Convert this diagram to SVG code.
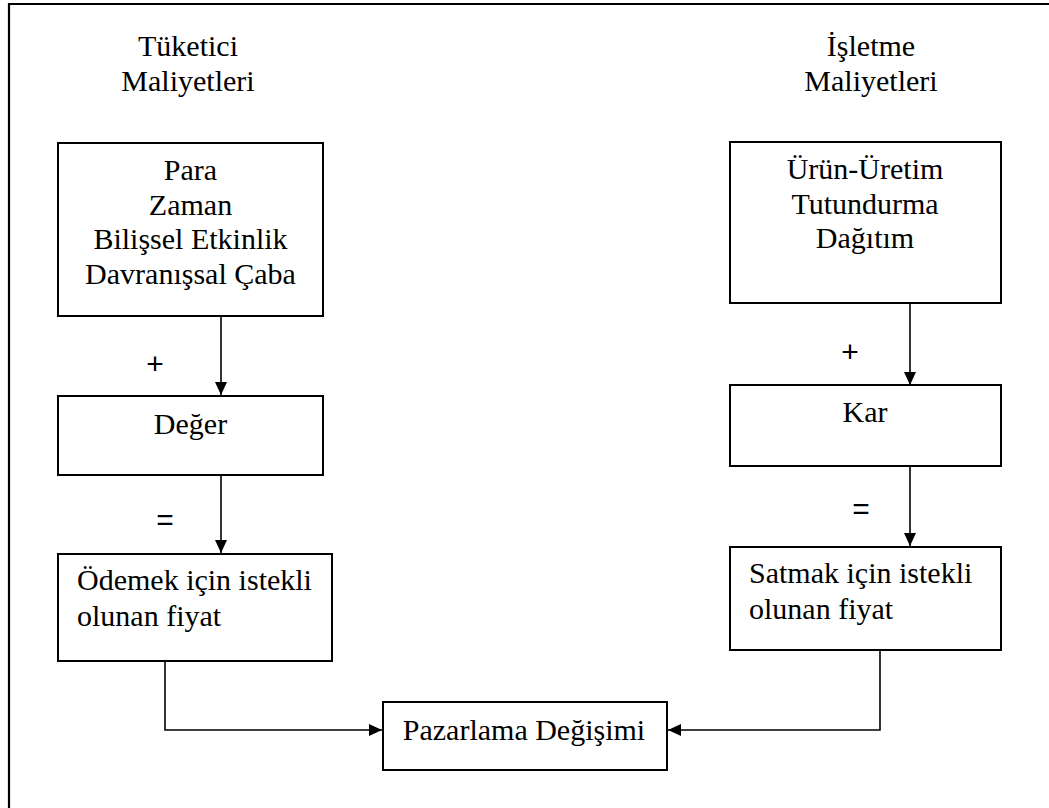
<svg xmlns="http://www.w3.org/2000/svg" width="1049" height="808" viewBox="0 0 1049 808">
  <style>
    .box { fill: #ffffff; stroke: #000000; stroke-width: 2; }
    .frame { fill: none; stroke: #000000; stroke-width: 2.2; }
    .edge { fill: none; stroke: #000000; stroke-width: 1.6; }
    .c { text-anchor: middle; }
    .op { text-anchor: middle; }
  </style>
  <defs>
    <marker id="arrow" viewBox="0 0 13 12" refX="13" refY="6" markerWidth="13" markerHeight="12" markerUnits="userSpaceOnUse" orient="auto">
      <path d="M0,0 L13,6 L0,12 z" fill="#000000"/>
    </marker>
  </defs>

  <rect width="1049" height="808" fill="#ffffff"/>

  <!-- outer frame: top and left edges -->
  <path class="frame" d="M9,808 L9,4 L1049,4"/>

  <g font-family="Liberation Serif, Tinos, Times New Roman, serif" font-size="30" fill="#000000">
    <!-- column headings -->
    <g id="heading-consumer">
      <text class="c" x="188" y="56">Tüketici</text>
      <text class="c" x="188" y="91">Maliyetleri</text>
    </g>
    <g id="heading-business">
      <text class="c" x="871" y="56">İşletme</text>
      <text class="c" x="871" y="91">Maliyetleri</text>
    </g>

    <!-- consumer side -->
    <g id="consumer-costs">
      <rect class="box" x="58" y="143" width="265" height="173"/>
      <text class="c" x="190.5" y="180">Para</text>
      <text class="c" x="190.5" y="214.5">Zaman</text>
      <text class="c" x="190.5" y="249">Bilişsel Etkinlik</text>
      <text class="c" x="190.5" y="283.5">Davranışsal Çaba</text>
    </g>
    <g id="value">
      <rect class="box" x="58" y="396" width="265" height="79"/>
      <text class="c" x="190.5" y="434">Değer</text>
    </g>
    <g id="price-to-pay">
      <rect class="box" x="58" y="554" width="274" height="107"/>
      <text x="77" y="590">Ödemek için istekli</text>
      <text x="77" y="626">olunan fiyat</text>
    </g>

    <!-- business side -->
    <g id="business-costs">
      <rect class="box" x="730" y="142" width="271" height="161"/>
      <text class="c" x="865" y="179">Ürün-Üretim</text>
      <text class="c" x="865" y="214">Tutundurma</text>
      <text class="c" x="865" y="248">Dağıtım</text>
    </g>
    <g id="profit">
      <rect class="box" x="730" y="385" width="271" height="81"/>
      <text class="c" x="865" y="422">Kar</text>
    </g>
    <g id="price-to-sell">
      <rect class="box" x="730" y="547" width="271" height="103"/>
      <text x="749" y="583">Satmak için istekli</text>
      <text x="749" y="619">olunan fiyat</text>
    </g>

    <!-- exchange -->
    <g id="marketing-exchange">
      <rect class="box" x="383" y="702" width="284" height="68"/>
      <text class="c" x="524" y="740">Pazarlama Değişimi</text>
    </g>
  </g>

  <!-- operators -->
  <g id="operators" font-family="Liberation Sans, Arimo, Arial, sans-serif" font-size="30" fill="#000000">
    <text class="op" x="155" y="374">+</text>
    <text class="op" x="165" y="530">=</text>
    <text class="op" x="850" y="362">+</text>
    <text class="op" x="861" y="519">=</text>
  </g>

  <!-- connectors -->
  <g id="connectors">
    <path class="edge" d="M221,316 L221,395" marker-end="url(#arrow)"/>
    <path class="edge" d="M221,475 L221,553" marker-end="url(#arrow)"/>
    <path class="edge" d="M165,661 L165,730 L382,730" marker-end="url(#arrow)"/>
    <path class="edge" d="M910,303 L910,385" marker-end="url(#arrow)"/>
    <path class="edge" d="M910,466 L910,546" marker-end="url(#arrow)"/>
    <path class="edge" d="M880,650 L880,730 L668,730" marker-end="url(#arrow)"/>
  </g>
</svg>
